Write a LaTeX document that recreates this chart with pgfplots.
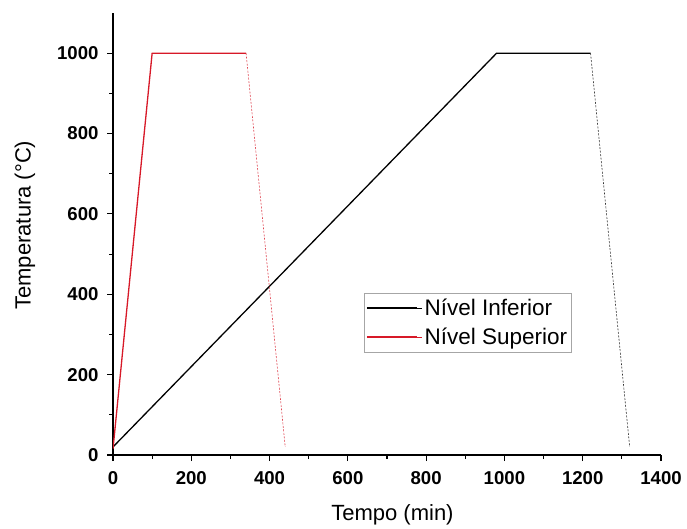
\documentclass[border=0pt]{standalone}
\usepackage{pgfplots}
\pgfplotsset{compat=1.18}
\usepackage{fontspec}
\setmainfont{Liberation Sans}
\definecolor{myred}{RGB}{215,25,40}
\begin{document}
\begin{tikzpicture}
\begin{axis}[
  name=ax,
  scale only axis,
  width=548pt, height=442pt,
  xmin=0, xmax=1400, ymin=0, ymax=1100,
  axis lines*=left,
  axis line style={line width=1.2pt},
  xtick={0,200,...,1400},
  ytick={0,200,...,1000},
  minor x tick num=1,
  minor y tick num=1,
  tick align=outside,
  major tick length=6pt,
  minor tick length=4pt,
  tick style={line width=1.1pt, black},
  /pgf/number format/assume math mode=true,
  /pgf/number format/1000 sep={},
  tick label style={font=\fontsize{18.6}{18.6}\selectfont\bfseries},
  xticklabel style={anchor=center, yshift=-17pt},
  yticklabel style={anchor=east, xshift=-5pt},
  label style={font=\fontsize{22}{22}\selectfont},
  xlabel={Tempo (min)},
  ylabel={Temperatura (°C)},
  xlabel style={at={(axis description cs:0.51,0)}, anchor=center, yshift=-60pt},
  ylabel style={at={(axis description cs:0,0.52)}, anchor=center, yshift=88pt},
  legend style={at={(0.458,0.3665)}, anchor=north west, draw=gray!70,
    font=\fontsize{22.5}{27}\selectfont, inner xsep=2pt, inner ysep=4pt,
    row sep=7pt},
  legend cell align=left,
  legend image code/.code={\draw[#1, line width=1.6pt] (0pt,0.3pt) -- (50pt,0.3pt); \path (0pt,0pt) -- (55pt,0pt);},
]
\addplot[black, line width=1.3pt] coordinates {(0,20) (980,1000) (1220,1000)};
\addlegendentry{Nível Inferior}
\addplot[myred, line width=1.3pt] coordinates {(0,15) (100,1000) (340,1000)};
\addlegendentry{Nível Superior}
\addplot[black!80, line width=0.6pt, dash pattern=on 2pt off 1.5pt, forget plot] coordinates {(1220,1000) (1320,20)};
\addplot[myred!80, line width=0.6pt, dash pattern=on 2pt off 1.5pt, forget plot] coordinates {(340,1000) (440,20)};
\end{axis}
\path (ax.south west) ++(-113pt,-73pt) (ax.north east) ++(26pt,13pt);
\end{tikzpicture}
\end{document}
